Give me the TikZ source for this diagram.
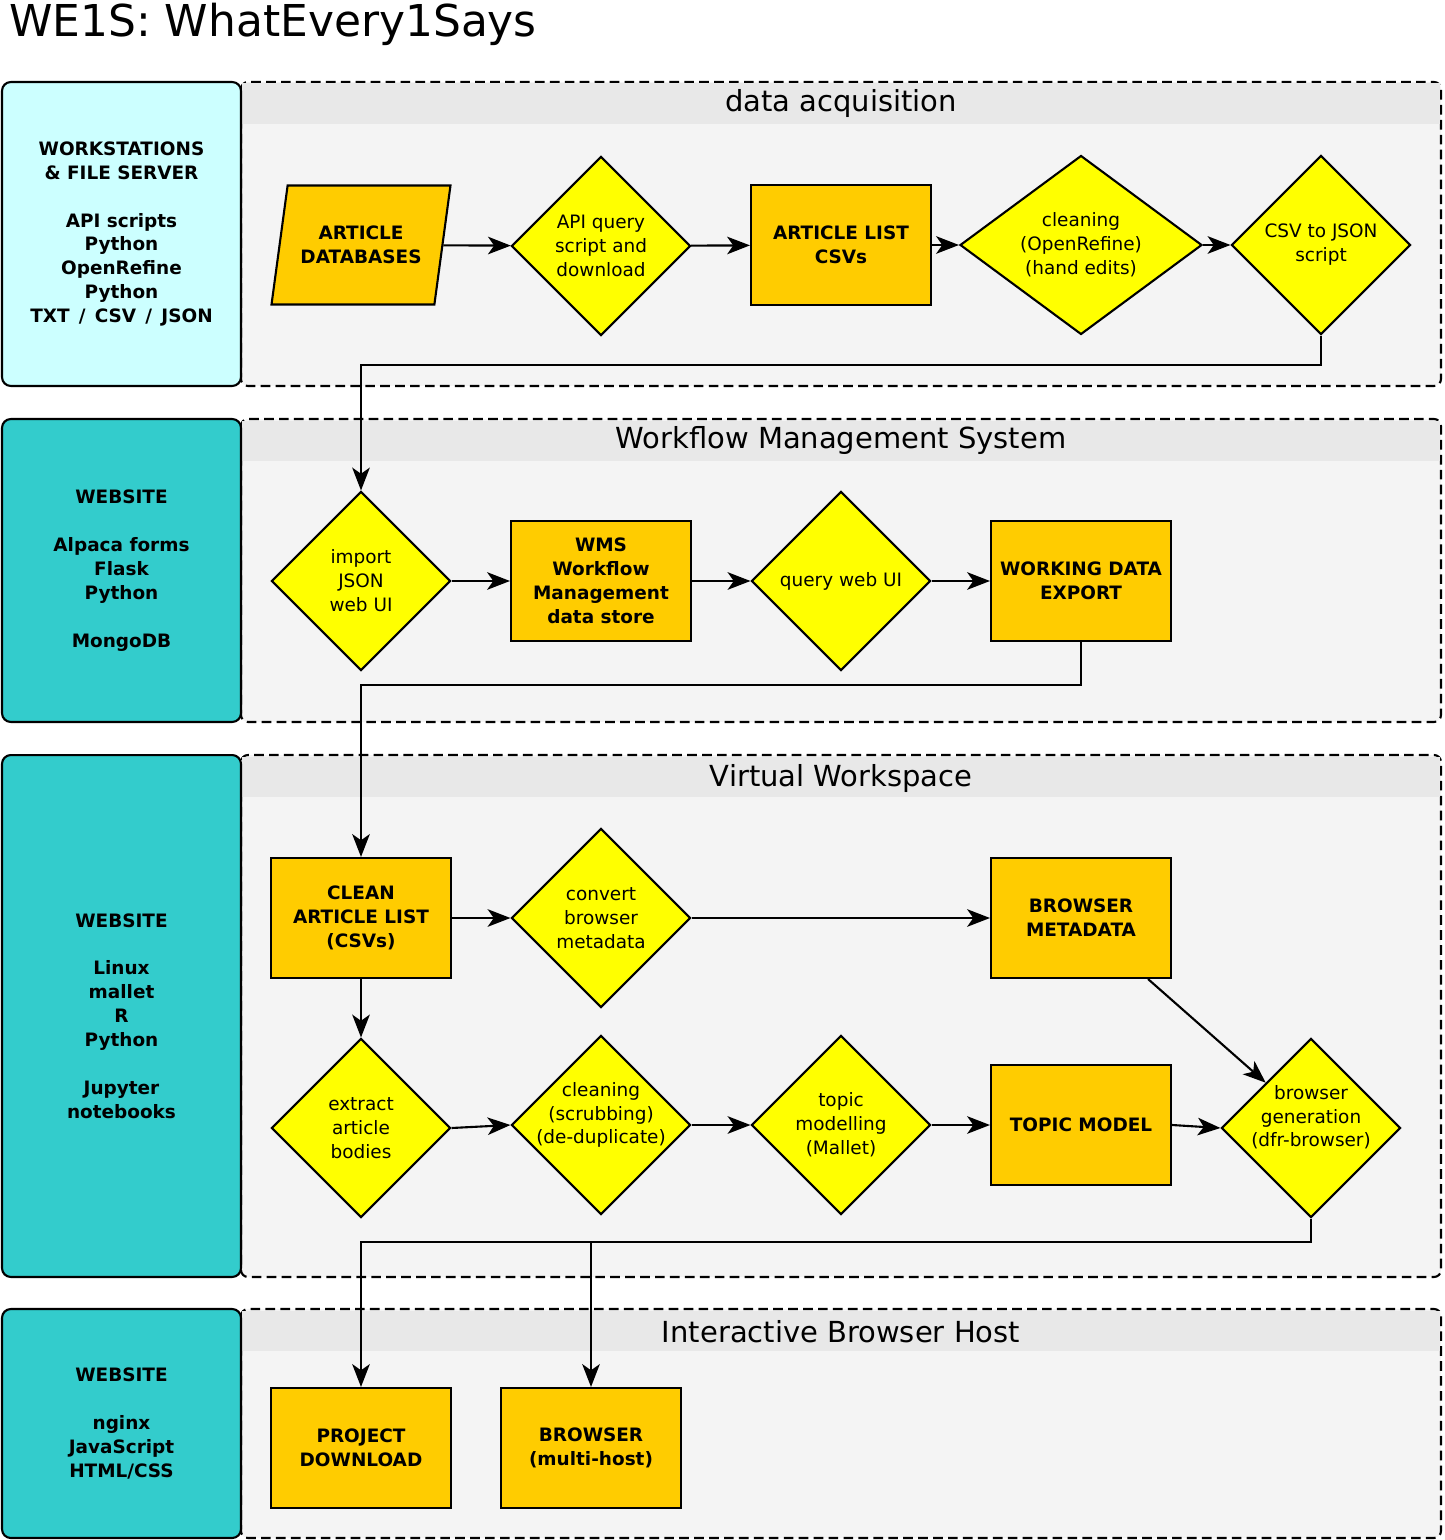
\documentclass[tikz,border=0pt]{standalone}
\usepackage{fontspec}
\setmainfont{DejaVu Sans}
\usepackage{xcolor}
\definecolor{laneGray}{HTML}{F4F4F4}
\definecolor{headGray}{HTML}{E8E8E8}
\definecolor{hostCyan}{HTML}{CCFFFF}
\definecolor{hostTeal}{HTML}{33CCCC}
\definecolor{stepAmber}{HTML}{FFCC00}
\definecolor{stepYellow}{HTML}{FFFF00}
\usepackage{tikz}
\usetikzlibrary{arrows.meta,positioning,shapes.geometric,backgrounds}

\begin{document}
\begin{tikzpicture}[
  x=0.02cm, y=-0.02cm,
  font=\fontsize{10.5}{13.6}\selectfont,
  store/.style={draw,line width=1.2pt,fill=stepAmber,align=center,
                minimum width=3.6cm,minimum height=2.4cm,
                font=\fontsize{10.5}{13.6}\selectfont\bfseries},
  proc/.style={draw,line width=1.2pt,fill=stepYellow,diamond,aspect=1,
               minimum width=3.58cm,minimum height=3.58cm,inner sep=-12pt,align=center},
  source/.style={draw,line width=1.2pt,fill=stepAmber,align=center,trapezium,
                 trapezium left angle=72,trapezium right angle=108,trapezium stretches body=true,
                 minimum width=3.58cm,minimum height=2.38cm,
                 font=\fontsize{10.5}{13.6}\selectfont\bfseries},
  host/.style={draw,line width=1.2pt,rounded corners=5pt,align=center,minimum width=4.78cm,
               font=\fontsize{10.5}{13.6}\selectfont\bfseries},
  lane/.style={draw,line width=1.2pt,dash pattern=on 5.5pt off 3pt,fill=laneGray,
               rounded corners=4pt},
  head/.style={font=\fontsize{16.5}{19}\selectfont},
  arc/.style={-{Stealth[length=13pt,width=10pt,inset=3.5pt]},line width=1.2pt}
]
\useasboundingbox (0,0) rectangle (1444,1540);

\node[anchor=base west,font=\fontsize{25}{30}\selectfont] (title) at (3,37) {WE1S: WhatEvery1Says};

% swim lanes
\foreach \top/\bot/\i in {82/386/1,419/722/2,755/1277/3,1309/1538/4}{
  \draw[lane] (241,\top) rectangle (1441,\bot);
  \fill[headGray] (242,\top+1.5) rectangle (1440,\top+42);
}
\node[head] (hd1) at (841,104) {data acquisition};
\node[head] (hd2) at (841,441) {Workflow Management System};
\node[head] (hd3) at (841,778) {Virtual Workspace};
\node[head] (hd4) at (841,1332) {Interactive Browser Host};

% hosts
\node[host,fill=hostCyan,minimum height=6.08cm] (ws) at (121.5,234)
  {WORKSTATIONS\\ \& FILE SERVER\\[13.6pt] API scripts\\ Python\\ OpenRefine\\ Python\\ TXT\enspace/\enspace CSV\enspace/\enspace JSON};
\node[host,fill=hostTeal,minimum height=6.06cm] (web1) at (121.5,570.5)
  {WEBSITE\\[13.6pt] Alpaca forms\\ Flask\\ Python\\[13.6pt] MongoDB};
\node[host,fill=hostTeal,minimum height=10.44cm] (web2) at (121.5,1016)
  {WEBSITE\\[13.6pt] Linux\\ mallet\\ R\\ Python\\[13.6pt] Jupyter\\ notebooks};
\node[host,fill=hostTeal,minimum height=4.58cm] (web3) at (121.5,1423.5)
  {WEBSITE\\[13.6pt] nginx\\ JavaScript\\ HTML/CSS};

% data acquisition
\node[source] (db) at (361,245) {ARTICLE\\ DATABASES};
\node[proc] (api) at (601,246) {API query\\ script and\\ download};
\node[store] (alist) at (841,245) {ARTICLE LIST\\ CSVs};
\node[proc,minimum width=4.84cm] (refine) at (1081,245) {cleaning\\ (OpenRefine)\\ (hand edits)};
\node[proc] (tojson) at (1321,245) {CSV to JSON\\ script};

% workflow management
\node[proc] (imp) at (361,581) {import\\ JSON\\ web UI};
\node[store] (wms) at (601,581) {WMS\\ Workflow\\ Management\\ data store};
\node[proc] (query) at (841,581) {query web UI};
\node[store] (wde) at (1081,581) {WORKING DATA\\ EXPORT};

% virtual workspace
\node[store] (cal) at (361,918) {CLEAN\\ ARTICLE LIST\\ (CSVs)};
\node[proc] (conv) at (601,918) {convert\\ browser\\ metadata};
\node[store] (bmeta) at (1081,918) {BROWSER\\ METADATA};
\node[proc] (ext) at (361,1128) {extract\\ article\\ bodies};
\node[proc] (scrub) at (601,1125) {cleaning\\ (scrubbing)\\ (de-duplicate)\\[0pt]};
\node[proc] (topic) at (841,1125) {topic\\ modelling\\ (Mallet)};
\node[store] (tmodel) at (1081,1125) {TOPIC MODEL};
\node[proc] (bgen) at (1311,1128) {browser\\ generation\\ (dfr-browser)\\[0pt]};

% browser host
\node[store] (proj) at (361,1448) {PROJECT\\ DOWNLOAD};
\node[store] (brw) at (591,1448) {BROWSER\\ (multi-host)};

% bends
\coordinate (r1) at (841,365);
\coordinate (r2) at (721,685);
\coordinate (r3) at (591,1242);

% arrows
\draw[arc] (db) -- (api);
\draw[arc] (api) -- (alist);
\draw[arc] (alist) -- (refine);
\draw[arc] (refine) -- (tojson);
\draw[arc] (tojson.south) |- (r1) -| (imp.north);
\draw[arc] (imp) -- (wms);
\draw[arc] (wms) -- (query);
\draw[arc] (query) -- (wde);
\draw[arc] (wde.south) |- (r2) -| (cal.north);
\draw[arc] (cal) -- (conv);
\draw[arc] (conv) -- (bmeta);
\draw[arc] (cal) -- (ext);
\draw[arc] (ext.east) -- (scrub.west);
\draw[arc] (scrub) -- (topic);
\draw[arc] (topic) -- (tmodel);
\draw[arc] (tmodel.east) -- (bgen.west);
\draw[arc] ([xshift=-0.48cm]bmeta.south east) -- (bgen.north west);
\draw[arc] (bgen.south) |- (r3) -| (proj.north);
\draw[arc] (r3) -- (brw.north);
\end{tikzpicture}
\end{document}
